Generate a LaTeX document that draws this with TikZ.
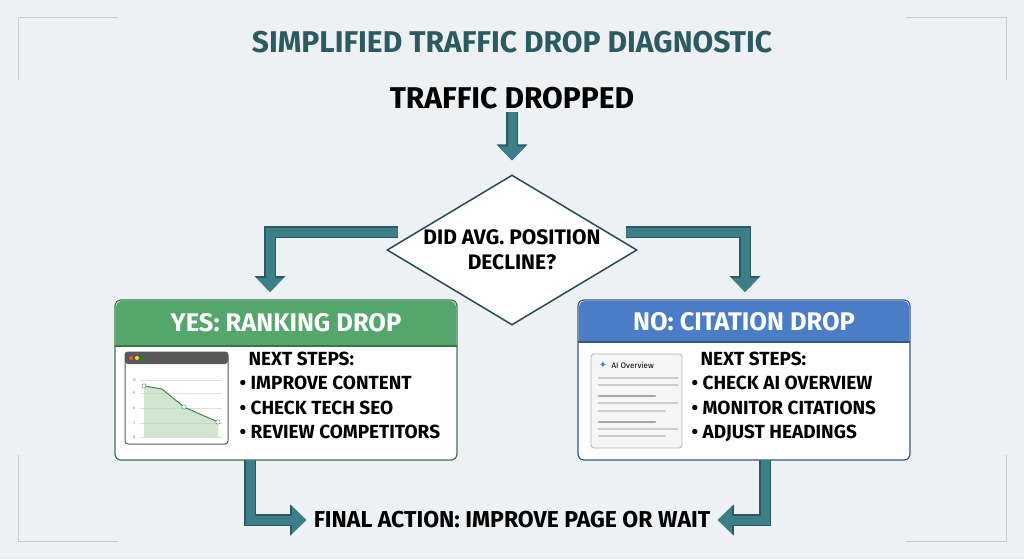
\documentclass[tikz,border=0pt]{standalone}
\usepackage{fontspec}
\setmainfont{Fira Sans}
\newfontfamily\symfont{DejaVu Sans}
\usetikzlibrary{shapes.geometric,arrows.meta,positioning}
\definecolor{bgc}{HTML}{EEF1F4}
\definecolor{teal}{HTML}{3D7F88}
\definecolor{tealdk}{HTML}{2B5A60}
\definecolor{grn}{HTML}{55A66D}
\definecolor{blu}{HTML}{4A7DC6}
\definecolor{frm}{HTML}{C8CCD2}
\tikzset{
  pipe/.style={line width=9pt, teal, -{Triangle[length=14pt,width=26pt]},
    preaction={draw=tealdk, line width=12pt, -{Triangle[length=16pt,width=30pt]}}},
  head/.style={font=\bfseries\fontsize{25.5}{25}\selectfont, text=white},
  steps/.style={font=\bfseries\fontsize{19}{24.5}\selectfont, align=left, anchor=north west},
}
\begin{document}
\begin{tikzpicture}[x=1pt,y=-1pt]
  \useasboundingbox (0,0) rectangle (1024,559);
  \fill[bgc] (0,0) rectangle (1024,559);
  % corner marks
  \draw[frm, line width=1pt] (18,80) -- (18,18) -- (118,18)
    (906,18) -- (1006,18) -- (1006,80)
    (18,455) -- (18,541) -- (118,541)
    (906,541) -- (1006,541) -- (1006,455);

  \node[font=\bfseries\fontsize{30}{30}\selectfont, text=tealdk] (title) at (512,42) {SIMPLIFIED TRAFFIC DROP DIAGNOSTIC};
  \node[font=\bfseries\fontsize{30}{30}\selectfont] (start) at (512,98) {TRAFFIC DROPPED};

  \node[diamond, draw=teal!60!black, line width=1.5pt, fill=white!92!bgc, aspect=1.7,
    minimum width=250pt, minimum height=150pt, inner sep=0pt, align=center,
    font=\bfseries\fontsize{21}{25}\selectfont] (dec) at (512,250) {DID AVG. POSITION\\DECLINE?};

  % left card
  \draw[grn!70!black, line width=1.2pt, fill=white, rounded corners=6pt] (115,300) rectangle (457,460);
  \fill[grn, rounded corners=6pt] (116,301) rectangle (456,346);
  \fill[grn] (116,330) rectangle (456,346);
  \draw[grn!70!black, line width=1.2pt] (115,346) -- (457,346);
  \node[head] (yes) at (286,323) {YES: RANKING DROP};
  \coordinate (yesb) at (250,460);
  % chart icon
  \draw[gray!70!black, line width=1pt, fill=white, rounded corners=3pt] (125,352) rectangle (228,444);
  \fill[gray!70!black, rounded corners=3pt] (125,352) rectangle (228,364);
  \foreach \x/\c in {131/red!70,137/yellow!80!orange,143/green!60!black} \fill[\c] (\x,358) circle (2pt);
  \foreach \y/\v in {380/12,393/9,408/6,423/3,437/0} {
    \draw[gray!25] (140,\y) -- (222,\y);
    \node[font=\fontsize{4}{4}\selectfont, text=gray] at (134,\y) {\v};}
  \fill[green!45!black!30, opacity=.6] (144,386) -- (162,389) -- (184,407) -- (218,422) -- (218,437) -- (144,437) -- cycle;
  \draw[grn!80!black, line width=1pt] (144,386) -- (162,389) -- (184,407) -- (218,422);
  \foreach \p in {(144,386),(184,407),(218,422)} \draw[grn!80!black, fill=white] \p circle (2.2pt);
  \node[steps] (ysteps) at (236,348) {\hspace*{9pt}NEXT STEPS:\\\textbullet\ IMPROVE CONTENT\\\textbullet\ CHECK TECH SEO\\\textbullet\ REVIEW COMPETITORS};

  % right card
  \draw[blu!70!black, line width=1.2pt, fill=white, rounded corners=6pt] (578,300) rectangle (910,460);
  \fill[blu, rounded corners=6pt] (579,301) rectangle (909,342);
  \fill[blu] (579,330) rectangle (909,342);
  \draw[blu!70!black, line width=1.2pt] (578,342) -- (910,342);
  \node[head] (no) at (744,322) {NO: CITATION DROP};
  \coordinate (nob) at (765,460);
  % ai overview icon
  \draw[gray!60, line width=.8pt, fill=gray!8, rounded corners=3pt] (591,354) rectangle (682,448);
  \node[text=blu, font=\symfont\fontsize{10}{10}\selectfont] (spark) at (603,365) {✦};
  \node[font=\fontsize{8}{8}\selectfont, anchor=west] (aio) at (608,365) {AI Overview};
  \foreach \y/\w/\c in {378/98/gray!40,385/98/gray!40,396/70/gray!70,403/98/gray!40,411/82/gray!40,422/70/gray!70,429/98/gray!40,436/82/gray!40}
    \draw[\c, line width=2.5pt, line cap=round] (599,\y) -- (599+\w*.8,\y);
  \node[steps] (nsteps) at (688,348) {\hspace*{9pt}NEXT STEPS:\\\textbullet\ CHECK AI OVERVIEW\\\textbullet\ MONITOR CITATIONS\\\textbullet\ ADJUST HEADINGS};

  \node[font=\bfseries\fontsize{23}{23}\selectfont] (final) at (512,520) {FINAL ACTION: IMPROVE PAGE OR WAIT};

  % connectors
  \coordinate (lt) at (270,232);
  \coordinate (rt) at (745,232);
  \draw[pipe] (start.south) -- ++(0,48);
  \draw[pipe] (dec.west |- lt) ++(12,0) -- (lt) -- (270,292);
  \draw[pipe] (dec.east |- rt) ++(-12,0) -- (rt) -- (745,292);
  \draw[pipe] (yesb) -- (250,520) -- ([xshift=-4pt]final.west);
  \draw[pipe] (nob) -- (765,520) -- ([xshift=4pt]final.east);
\end{tikzpicture}
\end{document}
